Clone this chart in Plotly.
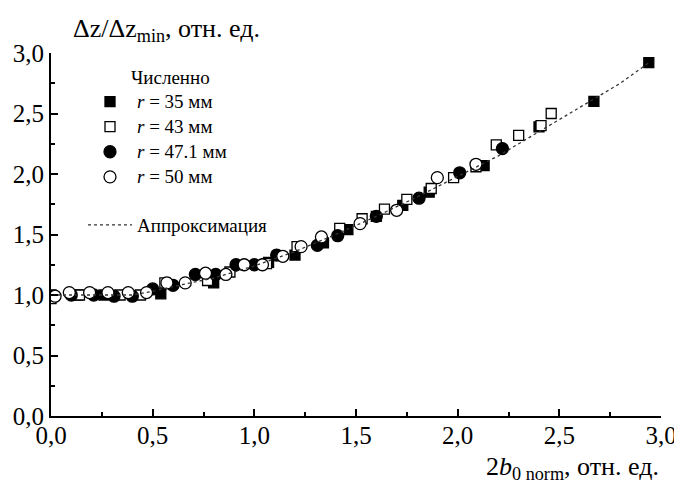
import plotly.graph_objects as go

# ---- data ----
x35 = [0.00, 0.13, 0.26, 0.54, 0.80, 1.07, 1.20, 1.34, 1.46, 1.60, 1.73, 1.86, 2.13, 2.40, 2.67, 2.94]
y35 = [1.00, 1.00, 1.00, 1.01, 1.10, 1.27, 1.33, 1.43, 1.54, 1.65, 1.74, 1.85, 2.07, 2.39, 2.60, 2.92]

x43 = [0.00, 0.14, 0.34, 0.44, 0.56, 0.77, 0.88, 1.06, 1.21, 1.42, 1.53, 1.64, 1.75, 1.87, 1.98, 2.09, 2.19, 2.30, 2.41, 2.46]
y43 = [0.97, 1.00, 1.00, 1.00, 1.10, 1.12, 1.19, 1.26, 1.40, 1.55, 1.63, 1.71, 1.79, 1.88, 1.97, 2.06, 2.24, 2.32, 2.40, 2.50]

x471 = [0.10, 0.21, 0.31, 0.40, 0.50, 0.60, 0.71, 0.81, 0.91, 1.00, 1.11, 1.31, 1.41, 1.60, 1.81, 2.01, 2.22]
y471 = [1.00, 1.00, 0.99, 0.99, 1.05, 1.08, 1.17, 1.17, 1.25, 1.25, 1.33, 1.41, 1.49, 1.65, 1.80, 2.01, 2.21]

x50 = [0.02, 0.09, 0.19, 0.28, 0.38, 0.47, 0.57, 0.66, 0.76, 0.86, 0.95, 1.04, 1.14, 1.23, 1.33, 1.52, 1.70, 1.90, 2.09]
y50 = [0.99, 1.02, 1.02, 1.02, 1.02, 1.02, 1.10, 1.10, 1.18, 1.17, 1.25, 1.25, 1.32, 1.40, 1.48, 1.59, 1.70, 1.97, 2.08]

x_fit = [0.00, 0.20, 0.40, 0.50, 0.60, 0.80, 1.00, 1.20, 1.40, 1.60, 1.80, 2.00, 2.20, 2.40, 2.60, 2.80, 2.94]
y_fit = [1.00, 1.00, 1.00, 1.03, 1.07, 1.14, 1.24, 1.36, 1.50, 1.65, 1.81, 1.98, 2.15, 2.35, 2.55, 2.75, 2.92]

tick_vals = [0.0, 0.5, 1.0, 1.5, 2.0, 2.5, 3.0]

FONT = "Liberation Serif"

def big(s):
    return "<span style='font-size:19px'>" + s + "</span>"

fig = go.Figure()

mk_line = dict(color="black", width=1.3)
fig.add_trace(go.Scatter(x=x35, y=y35, mode="markers", name=big("<i>r</i> = 35 мм"),
                         legendgroup="num",
                         marker=dict(symbol="square", size=10, color="black", line=mk_line)))
fig.add_trace(go.Scatter(x=x43, y=y43, mode="markers", name=big("<i>r</i> = 43 мм"),
                         legendgroup="num",
                         marker=dict(symbol="square", size=10, color="white", line=mk_line)))
fig.add_trace(go.Scatter(x=x471, y=y471, mode="markers", name=big("<i>r</i> = 47.1 мм"),
                         legendgroup="num",
                         marker=dict(symbol="circle", size=12, color="black", line=mk_line)))
fig.add_trace(go.Scatter(x=x50, y=y50, mode="markers", name=big("<i>r</i> = 50 мм"),
                         legendgroup="num",
                         marker=dict(symbol="circle", size=12, color="white", line=mk_line)))
fig.add_trace(go.Scatter(x=x_fit, y=y_fit, mode="lines", name=big("Аппроксимация"),
                         legendgroup="fit",
                         line=dict(color="#333333", width=1.3, dash="dot")))

axis_common = dict(
    range=[0, 3.0], tickvals=tick_vals, tickformat=".1f",
    ticks="inside", ticklen=7, tickwidth=1.5, tickcolor="black",
    minor=dict(dtick=0.25, ticks="inside", ticklen=4, tickwidth=1.5, tickcolor="black"),
    showline=True, linecolor="black", linewidth=1.8, mirror=False,
    showgrid=False, zeroline=False, automargin=False,
    tickfont=dict(family=FONT, size=25, color="black"),
)

# page body has an 8px default margin; figure sized to fill the rest of the window
fig.update_layout(
    width=674, height=486,
    margin=dict(l=43, r=21, t=45, b=78),
    paper_bgcolor="white", plot_bgcolor="white",
    separators=", ",
    xaxis=dict(axis_common, ticklabelstandoff=-4),
    yaxis=axis_common,
    showlegend=True,
    legend=dict(
        x=(83 - 51) / 610, y=(416 - 84) / 363, xanchor="left", yanchor="top",
        font=dict(family=FONT, size=17, color="black"),
        bgcolor="rgba(0,0,0,0)", borderwidth=0,
        traceorder="grouped", tracegroupgap=23,
        itemsizing="trace", itemwidth=44,
    ),
    annotations=[
        dict(text="Численно", xref="paper", yref="paper",
             x=(129 - 51) / 610, y=(416 - 77) / 363, xanchor="left", yanchor="middle",
             showarrow=False, font=dict(family=FONT, size=19, color="black")),
        dict(text="Δz/Δz<sub>min</sub>, отн. ед.", xref="paper", yref="paper",
             x=(71 - 51) / 610, y=(416 - 30) / 363, xanchor="left", yanchor="middle",
             showarrow=False, font=dict(family=FONT, size=26, color="black")),
        dict(text="2<i>b</i><sub>0 norm</sub>, отн. ед.", xref="paper", yref="paper",
             x=1.0, y=(416 - 468) / 363, xanchor="right", yanchor="middle",
             showarrow=False, font=dict(family=FONT, size=26, color="black")),
    ],
)

fig.write_html("out.html")
